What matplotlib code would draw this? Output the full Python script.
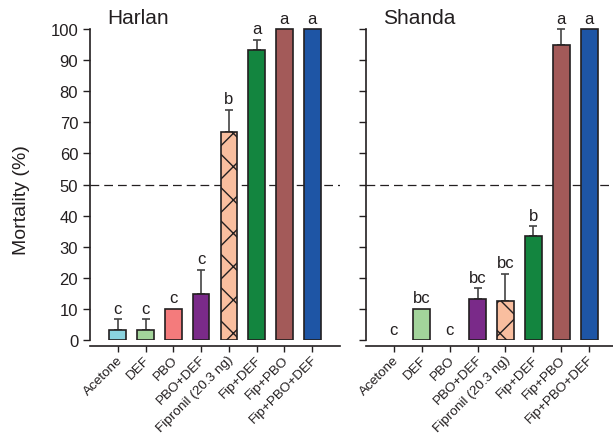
import numpy as np
import matplotlib
matplotlib.use("Agg")
import matplotlib.pyplot as plt

plt.rcParams['font.family'] = ['Liberation Sans', 'DejaVu Sans']
plt.rcParams['hatch.linewidth'] = 1.0
plt.rcParams['hatch.color'] = 'black'

treatments = ['Acetone', 'DEF', 'PBO', 'PBO+DEF', 'Fipronil (20.3 ng)',
              'Fip+DEF', 'Fip+PBO', 'Fip+PBO+DEF']
colors = ['#8AD3DF', '#A3D49B', '#F47B7C', '#7A2A89', '#F9BE9F',
          '#13853F', '#A35A59', '#1E55A5']
hatches = ['', '', '', '', 'x', '', '', '']

harlan_mean = [3.3, 3.3, 10.0, 14.8, 67.0, 93.3, 100.0, 100.0]
harlan_err = [3.3, 3.3, 0.0, 7.8, 7.0, 3.3, 0.0, 0.0]
harlan_letters = ['c', 'c', 'c', 'c', 'b', 'a', 'a', 'a']

shanda_mean = [0.0, 10.0, 0.0, 13.3, 12.5, 33.3, 95.0, 100.0]
shanda_err = [0.0, 0.0, 0.0, 3.3, 8.8, 3.3, 5.0, 0.0]
shanda_letters = ['c', 'bc', 'c', 'bc', 'bc', 'b', 'a', 'a']

ink = '#231F20'

fig = plt.figure(figsize=(6.13, 4.39), dpi=100)
ax1 = fig.add_axes([0.1468, 0.2232, 0.4078, 0.7155])
ax2 = fig.add_axes([0.5971, 0.2232, 0.4095, 0.7155])


def draw_panel(ax, name, mean, err, letters, show_ylabels):
    x = np.arange(len(treatments))
    for i in x:
        if mean[i] <= 0:
            continue
        ax.bar(i, mean[i], width=0.6, color=colors[i], edgecolor=ink,
               linewidth=1.2, hatch=hatches[i], zorder=2)
        if err[i] > 0:
            ax.errorbar(i, mean[i], yerr=[[0], [err[i]]], fmt='none',
                        ecolor='#444444', elinewidth=1.2, capsize=3,
                        capthick=1.2, zorder=1)
    for i in x:
        top = mean[i] + err[i]
        ax.annotate(letters[i], (i, top), xytext=(0, 2.5),
                    textcoords='offset points', ha='center', va='bottom',
                    fontsize=12, color=ink, annotation_clip=False)

    ax.axhline(50, color=ink, linestyle=(0, (7, 4)), linewidth=0.9, zorder=0)

    ax.set_xlim(-1, 8)
    ax.set_ylim(0, 101)
    ax.set_yticks(np.arange(0, 101, 10))
    ax.set_xticks(x)
    ax.tick_params(axis='y', direction='out', length=5, width=1,
                   colors=ink, labelsize=12)
    ax.tick_params(axis='x', direction='out', length=4.5, width=1,
                   colors=ink, labelbottom=False)
    if not show_ylabels:
        ax.set_yticklabels([])

    # slanted category names, anchored at their right end under each tick
    for i, lab in zip(x, treatments):
        ax.annotate(lab, (i, 0), xycoords=('data', 'axes fraction'),
                    xytext=(2, -12.5), textcoords='offset points',
                    ha='right', va='center', rotation=45,
                    rotation_mode='anchor', fontsize=9.7, color=ink,
                    annotation_clip=False)

    for side in ['top', 'right']:
        ax.spines[side].set_visible(False)
    ax.spines['left'].set_bounds(0, 100)
    ax.spines['bottom'].set_position(('outward', 4))
    for side in ['left', 'bottom']:
        ax.spines[side].set_color(ink)
        ax.spines[side].set_linewidth(1.2)

    ax.annotate(name, (0.068, 102), xycoords=('axes fraction', 'data'),
                ha='left', va='baseline', fontsize=15, color=ink,
                annotation_clip=False)


draw_panel(ax1, 'Harlan', harlan_mean, harlan_err, harlan_letters, True)
draw_panel(ax2, 'Shanda', shanda_mean, shanda_err, shanda_letters, False)

ax1.set_ylabel('Mortality (%)', fontsize=14, color=ink)
ax1.yaxis.set_label_coords(-0.24, 0.45)

fig.savefig('out.png', dpi=100)
